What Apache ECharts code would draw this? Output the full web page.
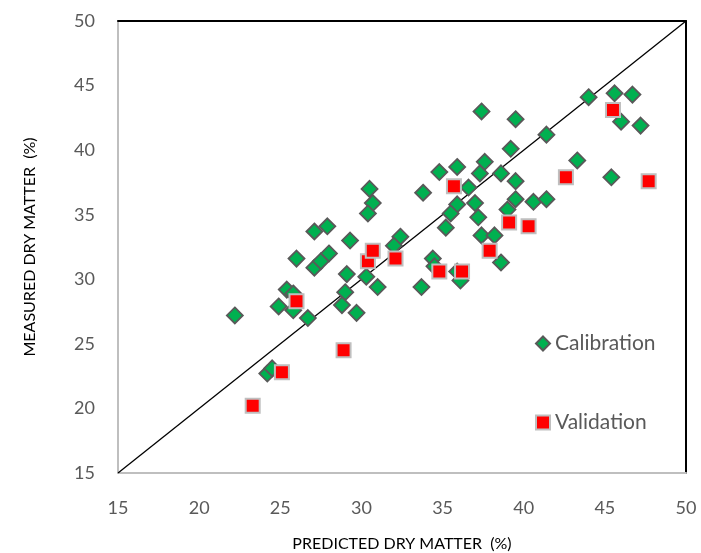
<!DOCTYPE html>
<html lang="en">
<head>
    <meta charset="UTF-8"/>
    <title>Dry matter: predicted vs measured</title>
    <script src="https://cdn.jsdelivr.net/npm/echarts@6/dist/echarts.min.js"></script>
    <style>
        html, body { margin: 0; padding: 0; background: #fff; }
        #chart { width: 701px; height: 553px; }
    </style>
</head>
<body>
<div id="chart"></div>
<script type="text/javascript">
    // axis ticks
    var xTicks = [15, 20, 25, 30, 35, 40, 45, 50];
    var yTicks = [15, 20, 25, 30, 35, 40, 45, 50];

    // calibration set: [predicted, measured]
    var calibration = [
        [22.2, 27.2], [24.2, 22.7], [24.5, 23.1], [24.9, 27.9], [25.4, 29.2],
        [25.8, 28.9], [25.8, 27.6], [26.7, 27.0], [26.0, 31.6], [27.1, 30.9],
        [27.5, 31.4], [28.0, 32.0], [27.1, 33.7], [27.9, 34.1], [29.3, 33.0],
        [29.1, 30.4], [30.3, 30.2], [31.0, 29.4], [29.0, 29.0], [28.8, 28.0],
        [29.7, 27.4], [30.5, 37.0], [30.7, 35.9], [30.4, 35.1], [32.4, 33.3],
        [32.0, 32.6], [33.8, 36.7], [34.8, 38.3], [35.9, 38.7], [37.4, 43.0],
        [37.6, 39.1], [37.3, 38.2], [36.6, 37.1], [35.9, 35.8], [37.0, 35.9],
        [35.5, 35.1], [37.2, 34.8], [35.2, 34.0], [37.4, 33.4], [38.2, 33.4],
        [38.6, 38.2], [39.5, 42.4], [41.4, 41.2], [39.2, 40.1], [39.5, 37.6],
        [39.5, 36.2], [40.6, 36.0], [41.4, 36.2], [39.0, 35.4], [38.6, 31.3],
        [34.4, 31.6], [34.5, 31.0], [35.9, 30.6], [36.1, 29.9], [33.7, 29.4],
        [43.3, 39.2], [44.0, 44.1], [45.6, 44.4], [46.7, 44.3], [46.0, 42.2],
        [47.2, 41.9], [45.4, 37.9]
    ];

    // validation set: [predicted, measured]
    var validation = [
        [23.3, 20.2], [25.1, 22.8], [26.0, 28.3], [28.9, 24.5], [30.4, 31.4],
        [30.7, 32.2], [32.1, 31.6], [34.8, 30.6], [36.2, 30.6], [35.7, 37.2],
        [37.9, 32.2], [39.1, 34.4], [40.3, 34.1], [42.6, 37.9], [45.5, 43.1],
        [47.7, 37.6]
    ];

    // 1:1 line
    var oneToOne = [[15, 15], [50, 50]];

    var gray = '#595959';
    var chart = echarts.init(document.getElementById('chart'));

    var option = {
        backgroundColor: '#fff',
        animation: false,
        grid: { left: 118, right: 15, top: 21, bottom: 80, outerBoundsMode: 'none' },
        legend: {
            orient: 'vertical',
            left: 535,
            top: 333,
            padding: 0,
            itemGap: 58,
            itemWidth: 14,
            itemHeight: 14,
            textStyle: { color: gray, fontSize: 21, fontFamily: 'Lato' },
            data: ['Calibration', 'Validation']
        },
        xAxis: [{
            type: 'value',
            min: 15, max: 50, interval: 5,
            name: 'PREDICTED DRY MATTER  (%)',
            nameLocation: 'middle',
            nameGap: 63,
            nameTextStyle: { color: '#000', fontSize: 16, fontFamily: 'Lato' },
            axisLine: { show: true, lineStyle: { color: '#bfbfbf', width: 2 } },
            axisTick: { show: false },
            splitLine: { show: false },
            axisLabel: {
                margin: 26, color: gray, fontSize: 18, fontFamily: 'Lato',
                formatter: function (v) { return xTicks.indexOf(v) >= 0 ? String(v) : ''; }
            }
        }, {
            type: 'value', position: 'top',
            min: 15, max: 50, interval: 5,
            axisLine: { show: true, lineStyle: { color: '#000', width: 2 } },
            axisTick: { show: false }, axisLabel: { show: false }, splitLine: { show: false }
        }],
        yAxis: [{
            type: 'value',
            min: 15, max: 50, interval: 5,
            name: 'MEASURED DRY MATTER  (%)',
            nameLocation: 'middle',
            nameGap: 80,
            nameTextStyle: { color: '#000', fontSize: 16, fontFamily: 'Lato' },
            axisLine: { show: true, lineStyle: { color: '#bfbfbf', width: 2 } },
            axisTick: { show: false },
            splitLine: { show: false },
            axisLabel: {
                margin: 23, color: gray, fontSize: 18, fontFamily: 'Lato',
                formatter: function (v) { return yTicks.indexOf(v) >= 0 ? String(v) : ''; }
            }
        }, {
            type: 'value', position: 'right',
            min: 15, max: 50, interval: 5,
            axisLine: { show: true, lineStyle: { color: '#000', width: 2 } },
            axisTick: { show: false }, axisLabel: { show: false }, splitLine: { show: false }
        }],
        series: [
            {
                name: '1:1',
                type: 'line',
                data: oneToOne,
                symbol: 'none',
                silent: true,
                lineStyle: { color: '#000', width: 1.3 },
                z: 1
            },
            {
                name: 'Calibration',
                type: 'scatter',
                data: calibration,
                symbol: 'diamond',
                symbolSize: 16,
                itemStyle: { color: '#00b050', borderColor: gray, borderWidth: 1.8, opacity: 1 },
                z: 2
            },
            {
                name: 'Validation',
                type: 'scatter',
                data: validation,
                symbol: 'rect',
                symbolSize: 14,
                itemStyle: { color: '#ff0000', borderColor: '#bfbfbf', borderWidth: 2, opacity: 1 },
                z: 3
            }
        ]
    };

    chart.setOption(option);
</script>
</body>
</html>
